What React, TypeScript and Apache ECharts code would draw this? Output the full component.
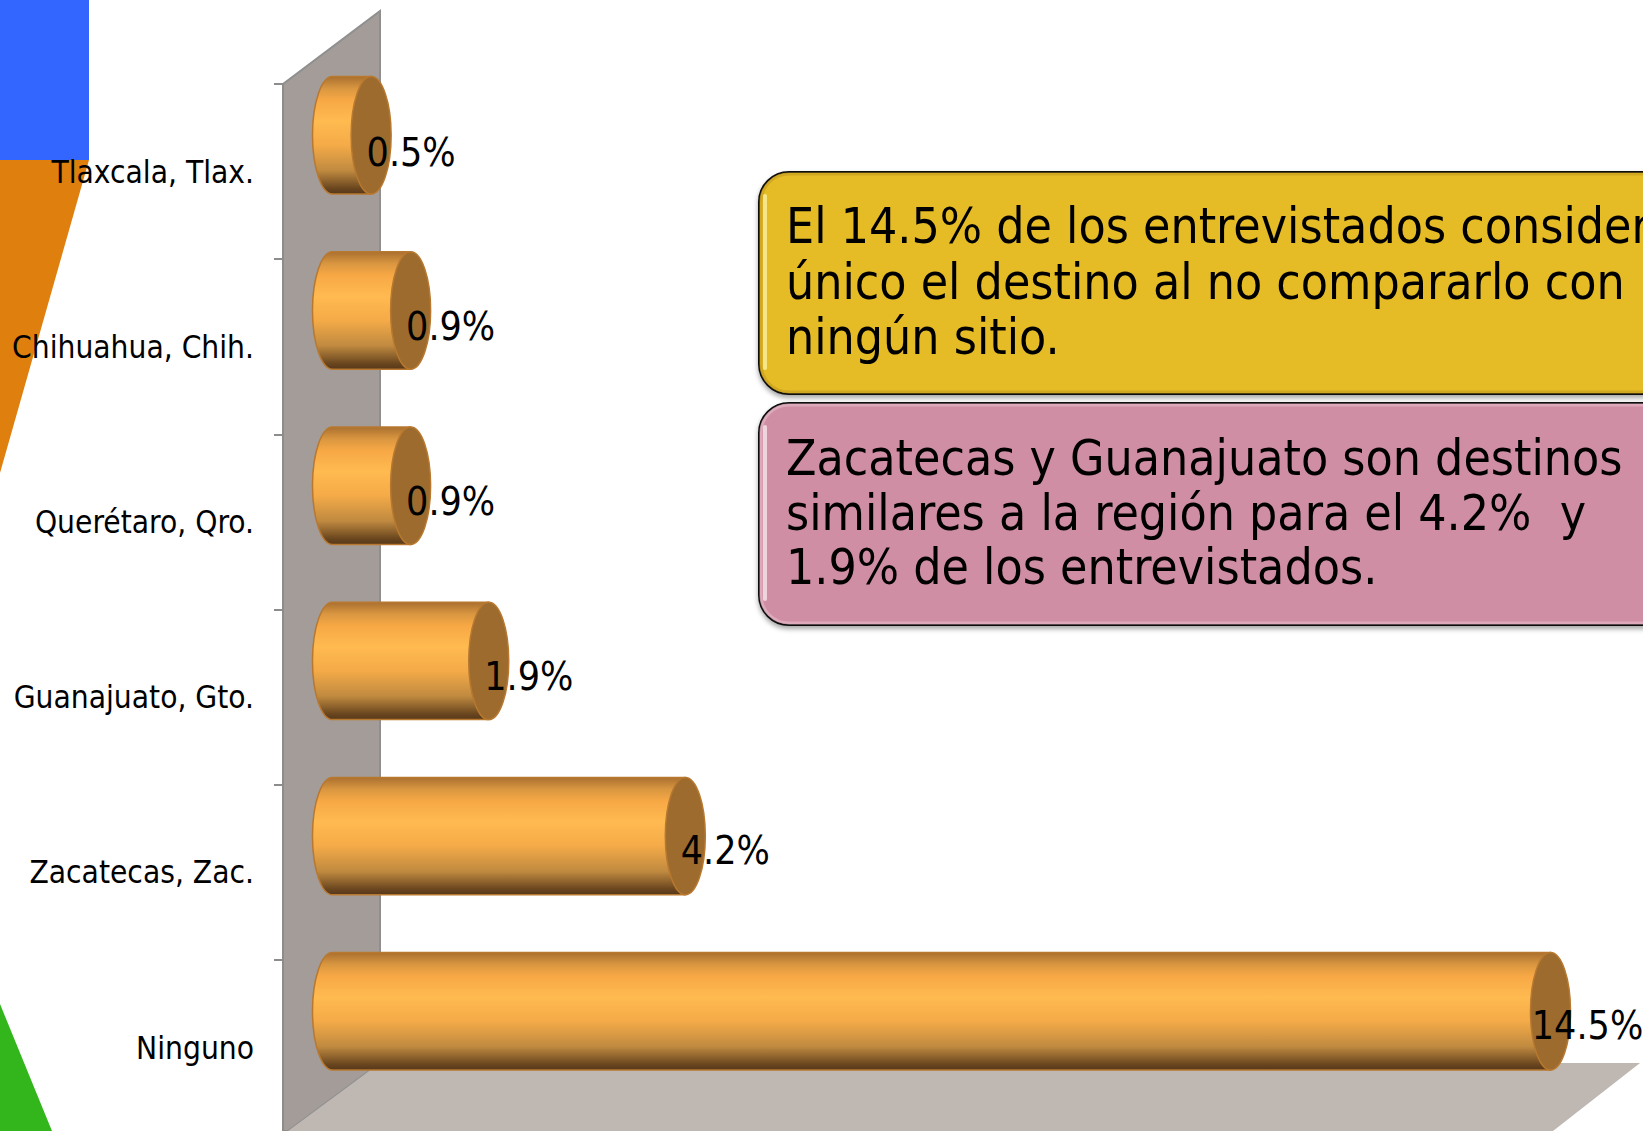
import React, { useEffect, useRef } from "react";
import * as echarts from "echarts";

const categories = ["Tlaxcala, Tlax.", "Chihuahua, Chih.", "Querétaro, Qro.", "Guanajuato, Gto.", "Zacatecas, Zac.", "Ninguno"];
const values = [0.46, 0.93, 0.93, 1.86, 4.2, 14.5];
const yellowLines = ["El 14.5% de los entrevistados considera", "único el destino al no compararlo con", "ningún sitio."];
const pinkLines = ["Zacatecas y Guanajuato son destinos", "similares a la región para el 4.2%  y", "1.9% de los entrevistados."];

const FONT = '"DejaVu Sans Condensed", "DejaVu Sans", sans-serif';
const cylinderFill = {
  type: "linear", x: 0, y: 0, x2: 0, y2: 1,
  colorStops: [
    { offset: 0, color: "#aa7030" },
    { offset: 0.1, color: "#d99640" },
    { offset: 0.2, color: "#f7a845" },
    { offset: 0.38, color: "#ffba50" },
    { offset: 0.58, color: "#f5ab48" },
    { offset: 0.8, color: "#c08a40" },
    { offset: 0.95, color: "#6b471f" },
    { offset: 1, color: "#55371a" },
  ],
};

function callout(top: number, h: number, fill: string, edge: string, light: string, lines: string[], ys: number[]) {
  const left = 759;
  const w = 1000;
  return [
    {
      type: "rect", shape: { x: left, y: top, width: w, height: h, r: 30 },
      style: { fill, stroke: "#111", lineWidth: 2, shadowBlur: 5, shadowOffsetY: 3, shadowColor: "rgba(0,0,0,0.35)" },
    },
    {
      type: "rect", shape: { x: left + 2, y: top + 2, width: w, height: h - 4, r: 28 },
      style: { fill: "none", stroke: edge, lineWidth: 3, opacity: 0.7 },
    },
    {
      type: "rect", shape: { x: left + 4, y: top + 22, width: 4, height: h - 46, r: 2 },
      style: { fill: light, opacity: 0.8 },
    },
    ...lines.map((t, i) => ({
      type: "text", x: 786, y: ys[i],
      style: { text: t, font: `49.5px ${FONT}`, fill: "#000", textAlign: "left", textVerticalAlign: "middle" },
    })),
  ];
}

export default function App() {
  const ref = useRef<HTMLDivElement>(null);
  useEffect(() => {
    document.body.style.margin = "0";
    document.body.style.overflow = "hidden";
    const chart = echarts.init(ref.current!, null, { renderer: "svg" });
    const dx = 49.5, dy = -36.3, rx = 20;
    chart.setOption({
      animation: false,
      backgroundColor: "#fff",
      graphic: {
        z: -1,
        elements: [
          { type: "rect", shape: { x: 0, y: 0, width: 89, height: 160 }, style: { fill: "#3366ff" } },
          { type: "polygon", shape: { points: [[0, 160], [89, 160], [0, 473]] }, style: { fill: "#df7f0e" } },
          { type: "polygon", shape: { points: [[0, 1004], [52, 1131], [0, 1131]] }, style: { fill: "#32b61c" } },
          { type: "polygon", shape: { points: [[283, 84], [380, 11], [380, 1063], [288, 1131], [283, 1131]] }, style: { fill: "#a39c98", stroke: "#8f8f8f", lineWidth: 2 } },
          { type: "polygon", shape: { points: [[380, 1063], [1640, 1063], [1553, 1131], [288, 1131]] }, style: { fill: "#bfb7b1" } },
          ...callout(172, 222, "#e5bc28", "#c9a020", "#fbf0a0", yellowLines, [226, 282, 337]),
          ...callout(403, 222, "#cf8ea4", "#e3b5c5", "#f6e6ec", pinkLines, [458, 513, 567]),
        ],
      },
      grid: { left: 283, top: 84, width: 1344, height: 1051.2 },
      xAxis: { type: "value", min: 0, max: 16, show: false },
      yAxis: {
        type: "category",
        inverse: true,
        data: categories,
        axisLine: { show: true, lineStyle: { color: "#8c8c8c", width: 2 } },
        axisTick: { show: true, length: 9, lineStyle: { color: "#8c8c8c", width: 2 } },
        axisLabel: { margin: 29, color: "#000", fontSize: 31.4, fontFamily: FONT },
      },
      series: [
        {
          type: "custom",
          clip: false,
          encode: { x: 0, y: 1 },
          data: values.map((v, i) => [v, i]),
          renderItem: (_p: any, api: any) => {
            const idx = api.value(1);
            const pt = api.coord([api.value(0), idx]);
            const band = api.size([0, 1])[1];
            const ry = band * 0.335;
            const x1 = pt[0] + dx;
            const cy = pt[1] + dy;
            const x0 = api.coord([0, idx])[0] + dx;
            const top = cy - ry, bot = cy + ry;
            return {
              type: "group",
              children: [
                {
                  type: "path",
                  shape: { pathData: `M${x0} ${top}L${x1} ${top}L${x1} ${bot}L${x0} ${bot}A${rx} ${ry} 0 0 1 ${x0} ${top}Z` },
                  style: { fill: cylinderFill, stroke: "#b8782f", lineWidth: 1.5 },
                },
                {
                  type: "ellipse",
                  shape: { cx: x1, cy, rx, ry },
                  style: { fill: "#9c6b2d", stroke: "#b8782f", lineWidth: 1.5 },
                },
                {
                  type: "text",
                  x: x1 + (api.value(0) > 10 ? 37 : 40),
                  y: cy + 17 - idx * 0.6,
                  style: {
                    text: `${api.value(0).toFixed(1)}%`,
                    font: `39px ${FONT}`,
                    fill: "#000",
                    textAlign: "center",
                    textVerticalAlign: "middle",
                  },
                },
              ],
            };
          },
        },
      ],
    });
    return () => chart.dispose();
  }, []);
  return <div ref={ref} style={{ position: "fixed", left: 0, top: 0, width: 1643, height: 1160 }} />;
}
